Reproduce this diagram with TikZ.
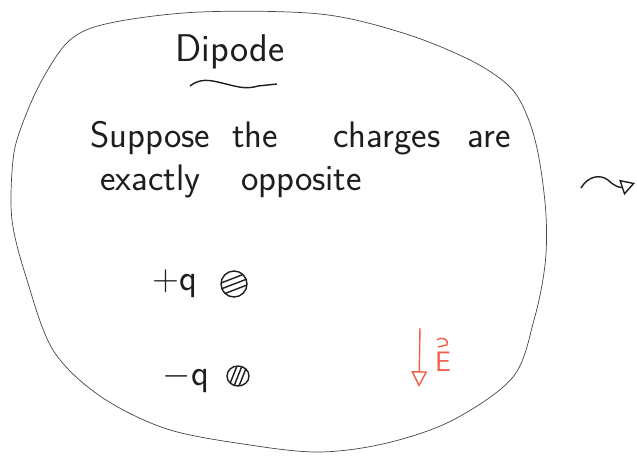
\documentclass[tikz,border=0pt]{standalone}
\usepackage{xcolor}
\definecolor{penblack}{RGB}{30,30,30}
\definecolor{pengray}{RGB}{70,70,70}
\definecolor{penred}{RGB}{240,95,70}
\usepackage{tikz}
\usetikzlibrary{arrows.meta, calc}

\begin{document}
\begin{tikzpicture}[x=0.02cm, y=-0.02cm,
    hand/.style={font=\sffamily, penblack, inner sep=0pt},
    charge/.style={draw=penblack, thick}]
  \useasboundingbox (0,0) rectangle (637,458);

  % Outline of the blob
  \draw[pengray, thin] plot[smooth cycle, tension=0.55] coordinates {
    (110,23) (200,12) (320,14) (403,33) (470,60) (510,87) (528,118)
    (539,158) (546,215) (545,265) (534,320) (513,377) (453,420)
    (387,443) (320,452) (250,445) (167,429) (100,396) (53,350)
    (27,280) (12,220) (13,160) (22,125) (42,80) (70,40)};

  % --- Title ---
  \node[hand, font=\sffamily\fontsize{22}{26}\selectfont] (title) at (230,52) {Dipode};
  \draw[penblack, thick] (190,86) .. controls (200,78) and (210,80) .. (222,83)
    .. controls (235,86) and (245,90) .. (258,86) -- (277,84);

  % --- Text lines ---
  \node[hand, font=\sffamily\fontsize{21}{25}\selectfont, anchor=base west] (line1) at (90,147)
    {Suppose\hspace{0.6em}the\hspace{1.5em}charges\hspace{0.75em}are};
  \node[hand, font=\sffamily\fontsize{21}{25}\selectfont, anchor=base west] (line2) at (100,190)
    {exactly\hspace{1.1em}opposite};

  % --- Charges ---
  \node[hand, font=\sffamily\fontsize{21}{25}\selectfont] (qplus) at (175,284) {+q};
  \coordinate (cplus) at (234,284);
  \draw[charge] (cplus) circle (13);
  \begin{scope}
    \clip (cplus) circle (13);
    \foreach \d in {-6,0,6}
      \draw[penblack, thick] ($(cplus)+(-13,\d+5)$) -- ($(cplus)+(13,\d-5)$);
  \end{scope}

  \node[hand, font=\sffamily\fontsize{21}{25}\selectfont] (qminus) at (186,378) {$-$q};
  \coordinate (cminus) at (238,376);
  \draw[charge] (cminus) ellipse (11 and 10);
  \begin{scope}
    \clip (cminus) ellipse (11 and 10);
    \foreach \d in {-5,0,5}
      \draw[penblack, thick] ($(cminus)+(\d-4,10)$) -- ($(cminus)+(\d+4,-10)$);
  \end{scope}

  % --- Field arrow ---
  \coordinate (etop) at (420,328);
  \coordinate (ebot) at (419,387);
  \draw[penred, thick, -{Triangle[open, length=9pt, width=9pt]}] (etop) -- (ebot);
  \node[hand, penred, font=\sffamily\fontsize{16}{20}\selectfont] (elabel) at (443,362) {E};
  \draw[penred, thick] ($(elabel.north)+(-6,-12)$) .. controls ($(elabel.north)+(0,-16)$)
    and ($(elabel.north)+(6,-12)$) .. ($(elabel.north)+(4,-7)$) -- ($(elabel.north)+(-5,-5)$);

  % --- Wavy arrow ---
  \coordinate (wstart) at (581,188);
  \coordinate (wend) at (635,183);
  \draw[penblack, thick, -{Triangle[open, length=8pt, width=9pt]}] (wstart)
    .. controls (588,176) and (600,174) .. (608,180)
    .. controls (614,186) and (620,188) .. (wend);
\end{tikzpicture}
\end{document}
